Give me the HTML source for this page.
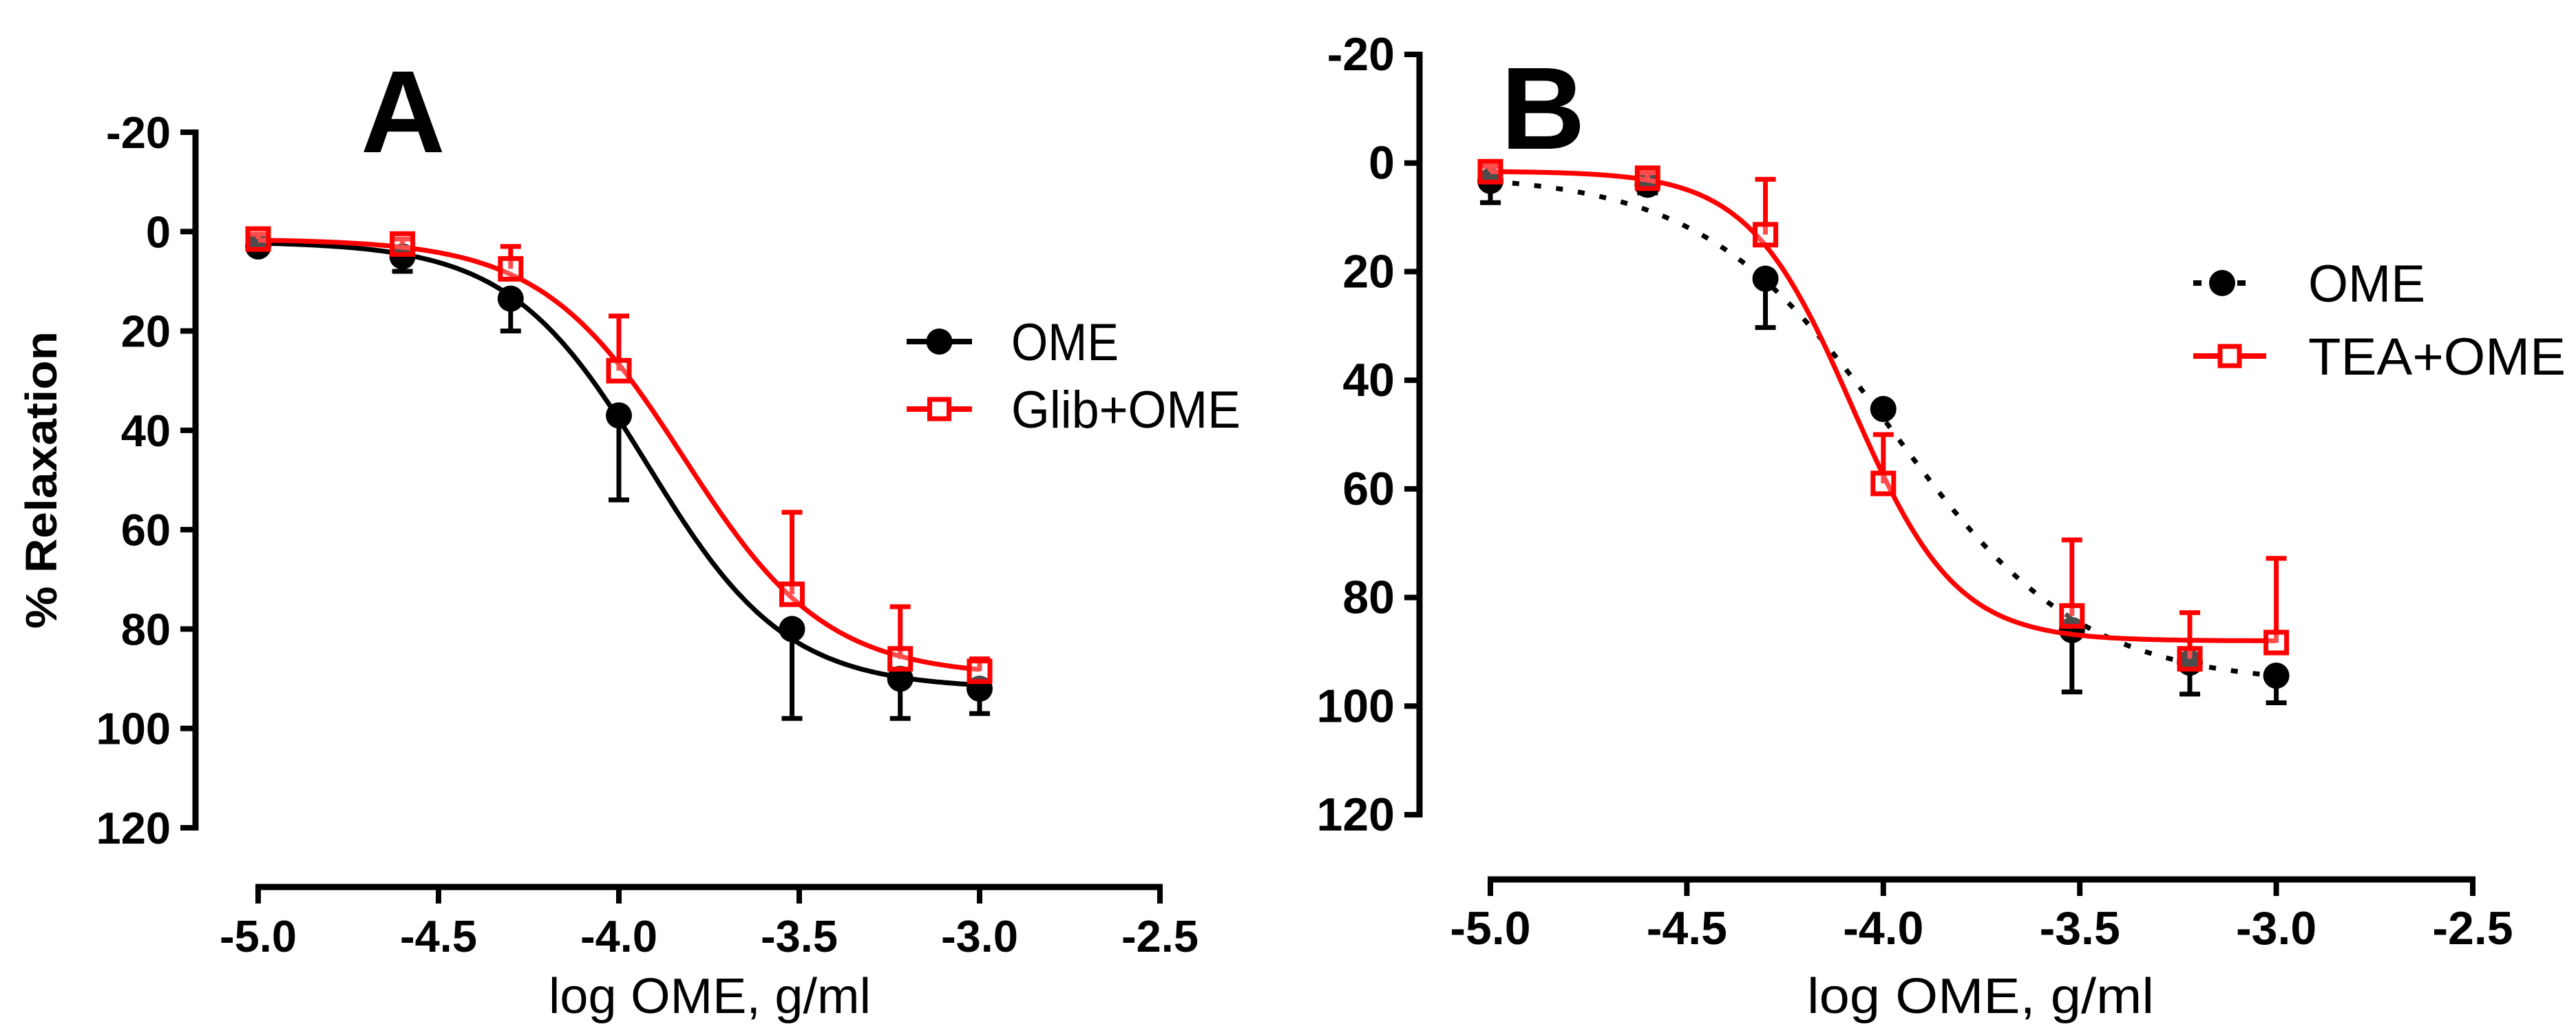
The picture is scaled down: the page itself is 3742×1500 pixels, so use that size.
<!DOCTYPE html>
<html><head><meta charset="utf-8"><style>
html,body{margin:0;padding:0;background:#fff;}
svg{display:block;}
text{font-family:"Liberation Sans Narrow","Liberation Sans",sans-serif;}
</style></head>
<body>
<svg id="fig" width="3742" height="1500" viewBox="0 0 3742 1500" xmlns="http://www.w3.org/2000/svg"></svg>
<script>
// ---- data ----
const xDoses = [-5, -4.6, -4.3, -4, -3.52, -3.22, -3];
const xTicks = [-5.0, -4.5, -4.0, -3.5, -3.0, -2.5];
const xTickLabels = ["-5.0", "-4.5", "-4.0", "-3.5", "-3.0", "-2.5"];
const yTicks = [-20, 0, 20, 40, 60, 80, 100, 120];
const yTickLabels = ["-20", "0", "20", "40", "60", "80", "100", "120"];
// Panel A
const aOmeMean = [3, 5, 13.5, 37, 80, 90, 92];
const aOmeErr = [1, 3, 6.5, 17, 18, 8, 5];
const aGlibMean = [1.5, 2.5, 7.5, 28, 73, 86, 88.5];
const aGlibErr = [1, 1, 4.5, 11, 16.5, 10.5, 2.5];
const aOmeFit = [2, 92, -3.92, 2.26];   // bottom, top, logEC50, hill
const aGlibFit = [1.5, 89.5, -3.82, 2.2];
// Panel B
const bOmeMean = [3.3, 4, 21.3, 45.3, 86, 92, 94.4];
const bOmeErr = [4, 1.5, 9, 1, 11.4, 5.8, 5];
const bTeaMean = [1.6, 2.8, 13.2, 59, 83.4, 91.3, 88.3];
const bTeaErr = [1, 1, 10.2, 9, 14, 8.5, 15.5];
const bOmeFit = [2, 96, -3.98, 1.8];
const bTeaFit = [1.5, 88, -4.08, 3.3];

const NS = "http://www.w3.org/2000/svg";
const svg = document.getElementById("fig");
function mk(tag, attrs, parent, txt) {
  const e = document.createElementNS(NS, tag);
  for (const k in attrs) e.setAttribute(k, attrs[k]);
  if (txt !== undefined) e.textContent = txt;
  (parent || svg).appendChild(e);
  return e;
}
function fit(p, x) { return p[0] + (p[1] - p[0]) / (1 + Math.pow(10, (p[2] - x) * p[3])); }

function panel(cfg) {
  const g = mk("g", {});
  
  
  const X = v => cfg.x0 + (v - (-5)) / 2.5 * (cfg.x1 - cfg.x0);
  const Y = v => cfg.y0 + (v - (-20)) / 140 * (cfg.y1 - cfg.y0);
  // y axis
  const ya = mk("g", {}, g);
  
  
  mk("line", {x1: cfg.ax, y1: Y(-20) - 4, x2: cfg.ax, y2: Y(120) + 4, stroke: "#000", "stroke-width": 9}, ya);
  yTicks.forEach((t, i) => {
    mk("line", {x1: cfg.ax - 22, y1: Y(t), x2: cfg.ax, y2: Y(t), stroke: "#000", "stroke-width": 8}, ya);
    const tx = mk("text", {x: cfg.ax - 36, y: Y(t) + 23, "text-anchor": "end", "font-size": cfg.tfs, "font-weight": "bold", fill: "#000"}, ya, yTickLabels[i]);
    
    
  });
  // x axis
  const xa = mk("g", {}, g);
  
  
  mk("line", {x1: X(-5) - 4, y1: cfg.axy, x2: X(-2.5) + 4, y2: cfg.axy, stroke: "#000", "stroke-width": 9}, xa);
  xTicks.forEach((t, i) => {
    mk("line", {x1: X(t), y1: cfg.axy, x2: X(t), y2: cfg.axy + 24, stroke: "#000", "stroke-width": 8}, xa);
    const tx = mk("text", {x: X(t), y: cfg.axy + 94, "text-anchor": "middle", "font-size": cfg.tfs, "font-weight": "bold", fill: "#000"}, xa, xTickLabels[i]);
    
    
  });
  const xt = mk("text", {x: cfg.xtc, y: 1471, "text-anchor": "middle", "font-size": 72, fill: "#000", textLength: cfg.xtw, lengthAdjust: "spacingAndGlyphs"}, g, "log OME, g/ml");
  
  
  // panel letter
  const pl = mk("text", {x: cfg.lx, y: cfg.ly, "font-size": 170, "font-weight": "bold", fill: "#000", "font-family": "Liberation Sans, sans-serif"}, g, cfg.letter);
  
  

  // series
  cfg.series.forEach(s => {
    const sg = mk("g", {}, g);
    
    
    let d = "";
    for (let i = 0; i <= 200; i++) {
      const xv = -5 + 2 * i / 200;
      d += (i ? "L" : "M") + X(xv).toFixed(1) + "," + Y(fit(s.fit, xv)).toFixed(1);
    }
    const c = mk("path", {d: d, fill: "none", stroke: s.color, "stroke-width": 7, "stroke-dasharray": s.dash || "none"}, sg);
    
    
    xDoses.forEach((xv, i) => {
      const m = s.mean[i], e = s.err[i];
      const ye = Y(m + s.errDir * e);
      const eb = mk("g", {}, sg);
      
      
      mk("line", {x1: X(xv), y1: Y(m), x2: X(xv), y2: ye, stroke: s.color, "stroke-width": 7}, eb);
      mk("line", {x1: X(xv) - 15, y1: ye, x2: X(xv) + 15, y2: ye, stroke: s.color, "stroke-width": 7}, eb);
      let pt;
      if (s.marker === "circle") pt = mk("circle", {cx: X(xv), cy: Y(m), r: 19, fill: "#000"}, sg);
      else pt = mk("rect", {x: X(xv) - 15, y: Y(m) - 15, width: 30, height: 30, fill: "#fff", "fill-opacity": 0.3, stroke: s.color, "stroke-width": 7}, sg);
      
      
    });
  });
  // legend
  cfg.legend.forEach(L => {
    const lg = mk("g", {}, g);
    
    
    mk("line", {x1: L.lx1, y1: L.y, x2: L.lx2, y2: L.y, stroke: L.color, "stroke-width": 8, "stroke-dasharray": L.dash || "none"}, lg);
    const cx = (L.lx1 + L.lx2) / 2;
    if (L.marker === "circle") mk("circle", {cx: cx, cy: L.y, r: 19, fill: "#000"}, lg);
    else mk("rect", {x: cx - 14, y: L.y - 14, width: 28, height: 28, fill: "#fff", stroke: L.color, "stroke-width": 7}, lg);
    mk("text", {x: L.tx, y: L.y + 27, "font-size": 76, fill: "#000", textLength: L.tw, lengthAdjust: "spacingAndGlyphs"}, lg, L.label);
  });
}

panel({
  name: "panel-a", letter: "A", lx: 524, ly: 221,
  x0: 375, x1: 1685, y0: 192, y1: 1202, ax: 284, axy: 1288, tfs: 65,
  xtc: 1031, xtw: 468,
  series: [
    {name: "series-ome", color: "#000", mean: aOmeMean, err: aOmeErr, errDir: 1, fit: aOmeFit, marker: "circle"},
    {name: "series-glib-ome", color: "#ff0000", mean: aGlibMean, err: aGlibErr, errDir: -1, fit: aGlibFit, marker: "square"}
  ],
  legend: [
    {label: "OME", color: "#000", marker: "circle", lx1: 1317, lx2: 1412, y: 496, tx: 1469, tw: 156},
    {label: "Glib+OME", color: "#ff0000", marker: "square", lx1: 1317, lx2: 1412, y: 594, tx: 1469, tw: 333}
  ]
});
panel({
  name: "panel-b", letter: "B", lx: 2180, ly: 216,
  x0: 2165, x1: 3592, y0: 79, y1: 1183, ax: 2062, axy: 1277, tfs: 68,
  xtc: 2877, xtw: 504,
  series: [
    {name: "series-ome", color: "#000", mean: bOmeMean, err: bOmeErr, errDir: 1, fit: bOmeFit, marker: "circle", dash: "10 22"},
    {name: "series-tea-ome", color: "#ff0000", mean: bTeaMean, err: bTeaErr, errDir: -1, fit: bTeaFit, marker: "square"}
  ],
  legend: [
    {label: "OME", color: "#000", marker: "circle", lx1: 3186, lx2: 3270, y: 411, tx: 3353, tw: 170, dash: "12 20"},
    {label: "TEA+OME", color: "#ff0000", marker: "square", lx1: 3186, lx2: 3292, y: 517, tx: 3353, tw: 374}
  ]
});

// y axis title (panel A)
const yt = mk("text", {x: 0, y: 0, transform: "translate(82,697) rotate(-90)", "text-anchor": "middle", "font-size": 64, "font-weight": "bold", fill: "#000", textLength: 432, lengthAdjust: "spacingAndGlyphs"}, svg, "% Relaxation");


</script>
</body></html>
